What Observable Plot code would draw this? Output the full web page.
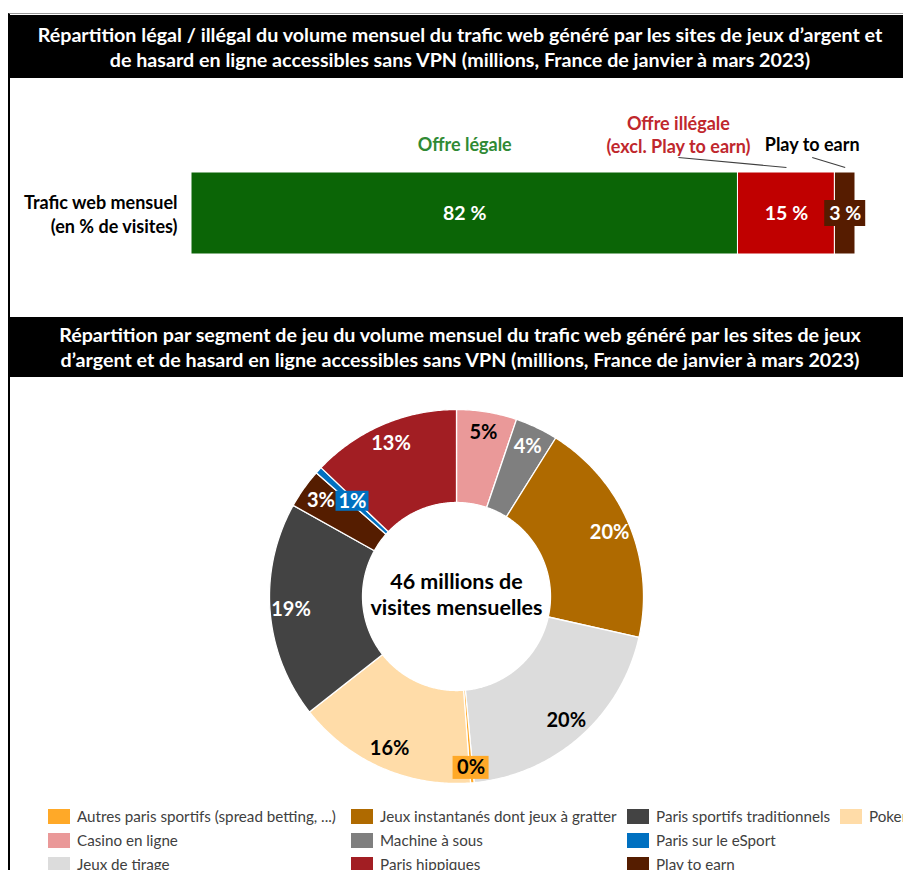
<!DOCTYPE html>
<html><head><meta charset="utf-8">
<script src="https://cdn.jsdelivr.net/npm/d3@7"></script>
<script src="https://cdn.jsdelivr.net/npm/@observablehq/plot@0.6"></script>
<style>
body{margin:0;width:903px;height:870px;overflow:hidden;background:#fff;font-family:Lato,"Open Sans",sans-serif;position:relative}
.frame{position:absolute;left:8px;top:13px;width:1000px;height:900px;border-left:2px solid #000;border-top:1px solid #999;}
.title{position:absolute;left:10px;width:900px;background:#000;color:#fff;font-weight:bold;font-size:19.7px;text-align:center;display:flex;flex-direction:column;justify-content:center;line-height:25px;white-space:nowrap}
#t1{top:15px;height:63px}
#t2{top:317px;height:60px}
#bar{position:absolute;left:0;top:78px}
#donut{position:absolute;left:0;top:378px}
#legend{position:absolute;top:804px;left:48px;display:grid;grid-template-columns:303px 276px 213px 200px;grid-template-rows:24px 24px 24px;grid-auto-flow:column;font-size:15.2px;color:#404040;white-space:nowrap}
#legend .it{display:flex;align-items:center}
#legend .sw{display:inline-block;flex:none;width:22px;height:15px;margin-right:7px}
</style></head>
<body>
<div class="frame"></div>
<div class="title" id="t1"><div>Répartition légal / illégal du volume mensuel du trafic web généré par les sites de jeux d’argent et</div><div>de hasard en ligne accessibles sans VPN (millions, France de janvier à mars 2023)</div></div>
<div id="bar"></div>
<div class="title" id="t2"><div>Répartition par segment de jeu du volume mensuel du trafic web généré par les sites de jeux</div><div>d’argent et de hasard en ligne accessibles sans VPN (millions, France de janvier à mars 2023)</div></div>
<div id="donut"></div>
<div id="legend"></div>
<script>
// ---------- data ----------
const barCategory = "Trafic web mensuel\n(en % de visites)";
const barSegments = ["Offre légale", "Offre illégale\n(excl. Play to earn)", "Play to earn"];
const barValues = [82.3, 14.6, 3.1];
const barLabels = ["82 %", "15 %", "3 %"];

const sliceNames = ["Casino en ligne", "Machine à sous", "Jeux instantanés dont jeux à gratter", "Jeux de tirage",
  "Autres paris sportifs (spread betting, ...)", "Poker", "Paris sportifs traditionnels", "Play to earn",
  "Paris sur le eSport", "Paris hippiques"];
const sliceValues = [5.2, 3.7, 19.6, 20.0, 0.3, 15.6, 18.7, 3.4, 0.6, 12.9];
const sliceLabels = ["5%", "4%", "20%", "20%", "0%", "16%", "19%", "3%", "1%", "13%"];
const legendOrder = ["Autres paris sportifs (spread betting, ...)", "Casino en ligne", "Jeux de tirage",
  "Jeux instantanés dont jeux à gratter", "Machine à sous", "Paris hippiques",
  "Paris sportifs traditionnels", "Paris sur le eSport", "Play to earn", "Poker"];
const centerText = "46 millions de\nvisites mensuelles";

// ---------- styles ----------
const barColors = ["#0B6506", "#C00000", "#561C00"];
const annotColors = ["#2F8A34", "#C0272D", "#000000"];
const sliceColor = {
  "Autres paris sportifs (spread betting, ...)": "#FFA928",
  "Casino en ligne": "#EA9999",
  "Jeux de tirage": "#DCDCDC",
  "Jeux instantanés dont jeux à gratter": "#AF6A00",
  "Machine à sous": "#7F7F7F",
  "Paris hippiques": "#A21E23",
  "Paris sportifs traditionnels": "#434343",
  "Paris sur le eSport": "#0070C0",
  "Play to earn": "#551D00",
  "Poker": "#FFDCA8"
};
const darkText = new Set(["Casino en ligne", "Jeux de tirage", "Poker", "Autres paris sportifs (spread betting, ...)"]);
const font = "Lato, 'Open Sans', sans-serif";

// ---------- bar chart ----------
const W = 903, BH = 239, mL = 191, mR = 48;
const innerW = W - mL - mR;
const pxToX = 100 / innerW;
const ends = d3.cumsum(barValues);
const barData = barSegments.map((s, i) => ({
  segment: s, value: barValues[i], label: barLabels[i],
  x1: ends[i] - barValues[i], x2: ends[i], mid: ends[i] - barValues[i] / 2
}));
const annotDx = [0, -108, -33];
const annot = barData.map((d, i) => ({...d, color: annotColors[i], ax: d.mid + annotDx[i] * pxToX}));
const leaders = annot.filter((d, i) => annotDx[i] !== 0);

const barPlot = Plot.plot({
  width: W, height: BH,
  marginLeft: mL, marginRight: mR, marginTop: 94, marginBottom: 63,
  x: {domain: [0, 100], axis: null},
  y: {domain: [0, 1], axis: null},
  color: {domain: barSegments, range: barColors},
  style: {fontFamily: font, background: "transparent"},
  marks: [
    Plot.rect(barData, {x1: "x1", x2: "x2", y1: 0, y2: 1, fill: "segment", stroke: "white", strokeWidth: 1}),
    Plot.rect(barData.filter((d, i) => i === 2), {x1: "mid", x2: "mid", y1: 0.5, y2: 0.5, fill: "segment",
      insetLeft: -20.5, insetRight: -20.5, insetTop: -13, insetBottom: -13}),
    Plot.text(barData, {x: "mid", y: 0.5, text: "label", fill: "white", fontWeight: "bold", fontSize: 19.5}),
    Plot.text([barCategory], {x: 0, y: 0.5, text: d => d, textAnchor: "end", dx: -14, fill: "black",
      fontWeight: "bold", fontSize: 18, lineHeight: 1.3}),
    Plot.text(annot.filter((d, i) => i !== 1), {x: "ax", y: 1, dy: -27, text: "segment", fill: "color",
      fontWeight: "bold", fontSize: 18}),
    Plot.text(annot.filter((d, i) => i === 1), {x: "ax", y: 1, dy: -38, text: "segment", fill: "color",
      fontWeight: "bold", fontSize: 18, lineHeight: 1.25}),
    Plot.link(leaders, {x1: "ax", x2: "mid", y1: 1.183, y2: 1.061, stroke: "#404040", strokeWidth: 1.2})
  ]
});
document.getElementById("bar").appendChild(barPlot);

// ---------- donut ----------
const R_OUT = 187, R_IN = 94;
const sliceData = sliceNames.map((n, i) => ({name: n, value: sliceValues[i], label: sliceLabels[i]}));
const arcs = d3.pie().sort(null).value(d => d.value).startAngle(0).endAngle(2 * Math.PI)(sliceData);
const poly = [];
for (const a of arcs) {
  const n = Math.max(2, Math.ceil((a.endAngle - a.startAngle) / 0.01));
  const pts = [];
  for (let i = 0; i <= n; i++) {
    const t = a.startAngle + (a.endAngle - a.startAngle) * i / n;
    pts.push({name: a.data.name, x: R_OUT * Math.sin(t), y: R_OUT * Math.cos(t)});
  }
  for (let i = n; i >= 0; i--) {
    const t = a.startAngle + (a.endAngle - a.startAngle) * i / n;
    pts.push({name: a.data.name, x: R_IN * Math.sin(t), y: R_IN * Math.cos(t)});
  }
  pts.push(pts[0]);
  poly.push(...pts);
}
const labelR = {"Autres paris sportifs (spread betting, ...)": 172, "Paris sur le eSport": 141};
const labels = arcs.map(a => {
  const m = (a.startAngle + a.endAngle) / 2;
  const r = labelR[a.data.name] ?? 166;
  return {name: a.data.name, label: a.data.label, x: r * Math.sin(m), y: r * Math.cos(m)};
});

const DH = 412;
const donutPlot = Plot.plot({
  width: W, height: DH, margin: 0,
  x: {domain: [-456, W - 456], axis: null},
  y: {domain: [-(DH - 218), 218], axis: null},
  color: {domain: sliceNames, range: sliceNames.map(n => sliceColor[n])},
  style: {fontFamily: font, background: "transparent"},
  marks: [
    Plot.line(poly, {x: "x", y: "y", z: "name", fill: "name", stroke: "white", strokeWidth: 1.3, curve: "linear"}),
    Plot.rect(labels.filter(d => d.name.startsWith("Autres")), {x1: "x", x2: "x", y1: "y", y2: "y", fill: "name",
      insetLeft: -18, insetRight: -18, insetTop: -11.5, insetBottom: -11.5}),
    Plot.rect(labels.filter(d => d.name === "Paris sur le eSport"), {x1: "x", x2: "x", y1: "y", y2: "y", fill: "name",
      insetLeft: -16.5, insetRight: -16.5, insetTop: -10, insetBottom: -10}),
    Plot.text(labels.filter(d => darkText.has(d.name)), {x: "x", y: "y", text: "label", fill: "black",
      fontWeight: "bold", fontSize: 20}),
    Plot.text(labels.filter(d => !darkText.has(d.name)), {x: "x", y: "y", text: "label", fill: "white",
      fontWeight: "bold", fontSize: 20}),
    Plot.text([centerText], {x: 0, y: 0, dy: -3, text: d => d, fill: "black", fontWeight: "bold",
      fontSize: 21.5, lineHeight: 1.22})
  ]
});
document.getElementById("donut").appendChild(donutPlot);

// ---------- legend ----------
const lg = document.getElementById("legend");
for (const n of legendOrder) {
  const it = document.createElement("div");
  it.className = "it";
  it.innerHTML = `<span class="sw" style="background:${sliceColor[n]}"></span><span></span>`;
  it.lastChild.textContent = n;
  lg.appendChild(it);
}
</script>
</body></html>
